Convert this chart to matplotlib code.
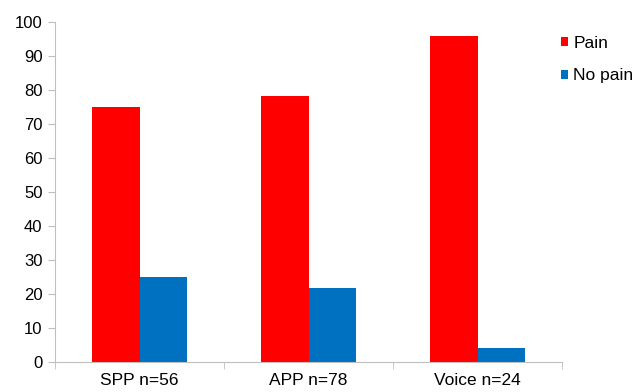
import numpy as np
import matplotlib.pyplot as plt

plt.rcParams["font.family"] = ["Liberation Sans", "DejaVu Sans"]

# Data
categories = ["SPP n=56", "APP n=78", "Voice n=24"]
pain = [75, 78.2, 95.9]
no_pain = [25, 21.8, 4.1]

fig = plt.figure(figsize=(6.35, 3.92), dpi=100)
ax = fig.add_axes([55 / 635, 1 - 362 / 392, (562 - 55) / 635, (362 - 22) / 392])

x = np.arange(len(categories))
w = 0.284
ax.bar(x - w / 2, pain, w, color="#ff0000", label="Pain")
ax.bar(x + w / 2, no_pain, w, color="#0070c0", label="No pain")

# Axes
ax.set_xlim(-0.5, len(categories) - 0.5)
ax.set_ylim(0, 100)
ax.set_yticks(np.arange(0, 101, 10))
ax.set_xticks(x)
ax.set_xticklabels(categories)
ax.set_xticks(np.arange(-0.5, len(categories), 1), minor=True)
ax.tick_params(axis="x", which="major", length=0, labelsize=12.5, pad=8)
ax.tick_params(axis="x", which="minor", length=5, color="#bfbfbf", direction="out")
ax.tick_params(axis="y", length=5, color="#bfbfbf", labelsize=12, pad=4)

for s in ["top", "right"]:
    ax.spines[s].set_visible(False)
for s in ["left", "bottom"]:
    ax.spines[s].set_color("#bfbfbf")

# Legend
fig.legend(loc="upper left", bbox_to_anchor=(554 / 635, 1 - 29 / 392),
           frameon=False, fontsize=12.5, handlelength=0.42, handleheight=0.42,
           handletextpad=0.3, labelspacing=1.0, borderaxespad=0)

plt.savefig("out.png", dpi=100)
plt.close()
